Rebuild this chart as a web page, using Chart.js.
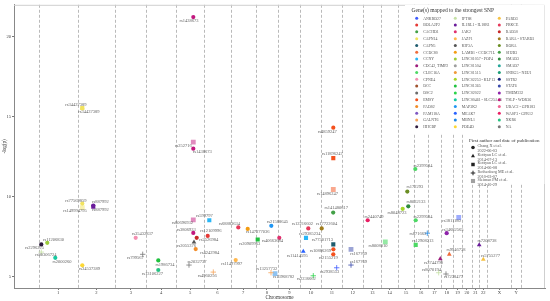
<!DOCTYPE html>
<html><head><meta charset="utf-8">
<script src="https://cdn.jsdelivr.net/npm/chart.js@4.4.0/dist/chart.umd.min.js"></script>
<style>html,body{margin:0;padding:0;background:#fff;}#wrap{width:550px;height:301px;}</style>
</head><body><div id="wrap"><canvas id="c" width="550" height="301"></canvas></div>
<script>
// ---------- DATA ----------
const chromosomes = ['1','2','3','4','5','6','7','8','9','10','11','12','13','14','15','16','17','18','19','20','21','22','X','Y'];
const chrLengthsMb = [249.25,243.20,198.02,191.15,180.92,171.12,159.14,146.36,141.21,135.53,135.01,133.85,115.17,107.35,102.53,90.35,81.20,78.08,59.13,63.03,48.13,51.30,155.27,59.37];
const yTicks = [5,10,15,20];

const snpIds = ["rs1438673","rs252716","rs1438673","rs80696932","rs3806933","rs2526984","rs12109996","rs2055376","rs4242984","rs2032737",
"rs4960256","rs599797","rs11497997","rs68883634","rs147377036","rs20909963","rs21588645","rs40663684","rs13257732","rs13968782",
"rs11414595","rs29385234","rs12216602","rs2236662","rs17722604","rs4859247","rs11896247","rs14896247","rs141480617","rs77301713",
"rs10886269","rs2155219","rs2938553","rs167769","rs167769","rs2440749","rs8008010","rs2399584","rs172293","rs8032133",
"rs8048723","rs2299584","rs3811180","rs871663","rs34682565","rs12908213","rs7208738","rs9946738","rs3744790","rs5755277",
"rs8070194","rs7238477","rs2296225","rs11206830","rs80306724","rs2000260","rs34537389","rs77569859","rs149994795","rs887992",
"rs887992","rs35432837","rs799567","rs1986734","rs13106227","rs34437389","rs34437389"];
const snpChr = ["5","5","5","5","5","5","6","5","5","5",
"6","6","7","7","7","8","8","9","8","8",
"10","10","10","10","11","11","11","11","11","11",
"11","11","11","12","12","13","14","16","15","15",
"15","16","19","16","18","16","21","18","17","22",
"17","18","1","1","1","1","2","2","2","2",
"2","3","3","4","4","2","2"];
const snpPosMb = [111.3,111.3,111.3,111.3,111.3,133.2,22.9,115.8,126.7,83.7,
58.9,33.2,31.6,48.3,108.7,13.8,101.1,6.1,99.2,124.9,
19.0,36.4,51.1,83.2,1.7,76.2,76.2,76.2,75.5,76.2,
76.8,76.2,98.0,54.9,54.9,28.2,26.2,9.0,60.1,66.5,
30.5,11.5,38.1,86.0,39.0,11.5,47.5,55.7,79.1,25.8,
68.8,34.5,16.7,55.2,16.7,106.6,30.8,30.8,30.8,101.4,
101.4,130.5,175.5,77.6,77.6,30.8,30.8];
const snpLogP = [21.22,13.41,13.00,8.55,7.74,7.43,7.55,7.16,6.73,5.73,
5.29,8.53,6.04,8.08,7.99,7.33,8.18,7.43,5.25,5.19,
6.58,7.43,8.02,5.06,8.02,14.31,12.41,10.45,9.01,7.02,
6.71,6.40,5.56,6.71,5.73,8.53,7.18,11.73,10.32,9.40,
9.24,8.53,8.70,7.72,7.72,6.99,6.99,6.40,6.12,6.08,
5.25,5.17,7.02,7.12,6.54,6.18,5.71,9.57,9.32,9.45,
9.37,7.43,6.40,6.02,5.42,15.54,15.51];
const snpGene = ["TSLP - WDR36","TSLP - WDR36","TSLP - WDR36","TSLP - WDR36","TSLP - WDR36","RAD50","BOLA2P2","KIF3A","FADS2","NA",
"GALNT6","CCNY","JAZF1","PRKCE","LAMB1 - CCDC71L","LINC01365","MAP3K2","JAK2","GALNT6","MBNL1",
"MEAK7","CCNY","PRKCE","LINC02022","RARA - STARD3","EMSY","EMSY","EMSY","SH2B3","CAPN5",
"EMSY","EMSY","ANKRD27","STAT6","STAT6","WASF3 - GPR12","LINC02022","CLEC16A","RORA","SMAD3",
"LINC02253 - KLF13","CLEC16A","ANKRD27","MBNL1","TMEM232","CLEC16A","IL1RL1 - IL18R1","CCDC80","CDC42, TIMP2","PARD3",
"IFT88","NA","HHCBP","LINC01057 - POP4","IFT88","LINC00461 - SLC25A46","PDE4D","CAPN14","CAPN14","IL1RL1 - IL18R1",
"IL1RL1 - IL18R1","CPNE4","NA","LINC01365","XKR6","CAPN14","CAPN14"];
// study index: 0 Chang, 1 Kottyan 2014-07-13, 2 Kottyan 2014-06-08, 3 Rothenberg, 4 Sleiman
const snpStudy = [0,4,0,4,0,0,0,1,0,3,
3,2,0,0,0,2,0,0,3,4,
1,2,0,3,0,0,2,4,0,2,
0,0,3,4,3,0,4,0,0,0,
0,0,4,3,0,2,1,1,1,1,
3,3,0,0,3,0,0,0,4,0,
2,0,3,0,0,2,0];

const geneNames = ["ANKRD27","BOLA2P2","CACHD1","CAPN14","CAPN5","CCDC80","CCNY","CDC42, TIMP2","CLEC16A","CPNE4","DCC","DSC2","EMSY","FADS2","FAM118A","GALNT6","HHCBP",
"IFT88","IL1RL1 - IL18R1","JAK2","JAZF1","KIF3A","LAMB1 - CCDC71L","LINC01057 - POP4","LINC01504","LINC01515","LINC02253 - KLF13","LINC01365","LINC02022","LINC00461 - SLC25A46","MAP3K2","MEAK7","MBNL1","PDE4D",
"PARD3","PRKCE","RAD50","RARA - STARD3","RORA","SH2B3","SMAD3","SMAD7","SNHG5 - NEU1","SSTR2","STAT6","TMEM232","TSLP - WDR36","UBAC2 - GPR183","WASF3 - GPR12","XKR6","NA"];
const studyAuthors = ["Chang X et al.","Kottyan LC et al.","Kottyan LC et al.","Rothenberg ME et al.","Sleiman PM et al."];
const studyDates = ["2022-06-03","2014-07-13","2014-06-08","2010-03-07","2014-10-29"];

// ---------- STYLE ----------
const genePalette = ["#3d5afe","#e53935","#43a047","#f2e35f","#1f5c6e","#ef6c3a","#29b6f6","#9c1d7c","#4cd964","#f48fb1","#a0522d","#6b6b6b","#f4511e","#f28c28","#7e57c2","#f6a55b","#2d1b3e",
"#c5e1a5","#6a1b9a","#e0306e","#ffb74d","#555555","#f39c12","#9ccc3c","#9e9e9e","#ef9a3a","#a5d62a","#1fc13e","#2bd44a","#17c9a0","#2196f3","#2962ff","#1e88e5","#fdd835",
"#f6c142","#e5395a","#c62828","#a07d1e","#6b8e23","#43a047","#2e8b3c","#26a69a","#1b9e77","#1a237e","#3949ab","#8e24aa","#c2187e","#f06292","#e91e63","#26c281","#777777"];
const labelNudge = [[-4.3,3.7],[-10,3.5],[9,3.5],[-11,3],[-7,-2.7],[12,1.6],[3.3,-4.7],[-7.5,3.7],[14,3.7],[8,-3.3],
[-6,4],[-5,-4.3],[-4,3.3],[-9,-3.3],[10,3],[-8,4.4],[6,-4],[-7,3.3],[-4.5,-4.4],[8.5,3.6],
[-6,4.7],[4,-4],[-6,-4.3],[-7,2.6],[5,-4.3],[-6,3.7],[-1,-4.4],[-6,4],[3,-4.6],[-11,-4.3],
[-13,1.4],[-5,3.4],[-7,4],[7.5,4],[7.5,-3.3],[6.3,-3.3],[-7.3,4.3],[7.7,-3.7],[7.7,-4.6],[7.7,-4],
[-5.7,4],[7.3,-3.3],[-7.2,3.7],[-9.3,1],[6.3,-3.7],[7.3,-4],[7.7,-4],[6.7,-4.3],[-6.8,3.6],[7.2,-3.3],
[-7.2,-3.4],[7.5,3.3],[-6.8,3.7],[6.2,-3.4],[4.7,3],[6.7,4],[7.2,3.4],[-6.3,-2.6],[-7.3,3.7],[7.2,-3.3],
[7.2,2.8],[6.8,-3.7],[-7.2,3],[6.7,4],[-5.8,4],[-6.3,-3.2],[6.7,3]];
const studyStyle = [
  {pointStyle:'circle', radius:2.1, alpha:1, bw:0},
  {pointStyle:'triangle', radius:2.7, alpha:1, bw:0},
  {pointStyle:'rect', radius:2.9, alpha:1, bw:0},
  {pointStyle:'cross', radius:2.7, alpha:1, bw:0.8},
  {pointStyle:'rect', radius:3.4, alpha:0.5, bw:0}
];
const SERIF = '"Liberation Serif", "DejaVu Serif", serif';

// ---------- BUILD ----------
const chrStart = []; let acc = 0;
chrLengthsMb.forEach(l => { chrStart.push(acc); acc += l; });
const genomeEnd = acc;
const boundaries = chrStart.concat([genomeEnd]);
const chrCenters = chrStart.map((s,i) => s + chrLengthsMb[i]/2);

function hexA(hex, a){ const n=parseInt(hex.slice(1),16); return `rgba(${n>>16&255},${n>>8&255},${n&255},${a})`; }
function geneColor(g, a){ const k = geneNames.indexOf(g); return hexA(genePalette[k<0?genePalette.length-1:k], a); }

const datasets = studyAuthors.map((s, si) => {
  const st = studyStyle[si];
  const data = [];
  snpIds.forEach((id, i) => {
    if (snpStudy[i] !== si) return;
    const ci = chromosomes.indexOf(snpChr[i]);
    data.push({x: chrStart[ci] + snpPosMb[i], y: snpLogP[i], i});
  });
  return {
    label: s + ' ' + studyDates[si], data,
    pointStyle: st.pointStyle, pointRadius: st.radius,
    backgroundColor: c => c.raw ? geneColor(snpGene[c.raw.i], st.alpha) : '#000',
    borderColor: c => c.raw ? geneColor(snpGene[c.raw.i], st.pointStyle==='cross'?1:st.alpha) : '#000',
    borderWidth: st.bw
  };
});

const overlay = {
  id: 'overlay',
  beforeDatasetsDraw(chart) {
    const {ctx, chartArea: a, scales: {x}} = chart;
    ctx.save();
    ctx.strokeStyle = '#a8a8a8'; ctx.lineWidth = 0.8; ctx.setLineDash([3,2]);
    boundaries.forEach(b => {
      const px = Math.round(x.getPixelForValue(b)) + 0.5;
      ctx.beginPath(); ctx.moveTo(px, a.top); ctx.lineTo(px, a.bottom); ctx.stroke();
    });
    ctx.setLineDash([]);
    ctx.strokeStyle = '#cfcfcf'; ctx.lineWidth = 1;
    ctx.beginPath(); ctx.moveTo(a.left, a.top + 0.5); ctx.lineTo(a.right - 0.5, a.top + 0.5); ctx.lineTo(a.right - 0.5, a.bottom); ctx.stroke();
    // legend backgrounds
    ctx.fillStyle = '#fff';
    ctx.fillRect(405, 5, 139.5, 129);
    ctx.fillRect(468, 134, 76.5, 50);
    ctx.restore();
  },
  afterDatasetsDraw(chart) {
    const {ctx} = chart;
    ctx.save();
    // point labels
    ctx.font = '4.5px ' + SERIF; ctx.fillStyle = '#5f5f5f';
    ctx.textAlign = 'center'; ctx.textBaseline = 'middle';
    chart.data.datasets.forEach((ds, di) => {
      const meta = chart.getDatasetMeta(di);
      meta.data.forEach((el, j) => {
        const i = ds.data[j].i;
        ctx.fillText(snpIds[i], el.x + labelNudge[i][0], el.y + labelNudge[i][1]);
      });
    });
    // gene legend
    ctx.textAlign = 'left'; ctx.fillStyle = '#333';
    ctx.font = '5.5px ' + SERIF;
    ctx.fillText('Gene(s) mapped to the strongest SNP', 411.5, 10.5);
    const colX = [416.7, 455.3, 499.3], rowY0 = 18.3, rowStep = 6.78, perCol = 17;
    ctx.font = '3.9px ' + SERIF;
    geneNames.forEach((g, k) => {
      const c = Math.floor(k / perCol), r = k % perCol;
      const px = colX[c], py = rowY0 + r * rowStep;
      ctx.fillStyle = genePalette[k];
      ctx.beginPath(); ctx.arc(px, py, 1.5, 0, Math.PI*2); ctx.fill();
      ctx.fillStyle = '#555';
      ctx.fillText(g, px + 6.5, py + 0.3);
    });
    // study legend
    ctx.fillStyle = '#333'; ctx.font = '5px ' + SERIF;
    ctx.fillText('First author and date of publication', 469, 141);
    ctx.font = '4.2px ' + SERIF;
    const legY = [147.5, 156, 164.5, 173, 181];
    studyAuthors.forEach((s, si) => {
      const st = studyStyle[si];
      const col = si === 4 ? 'rgba(120,120,120,0.7)' : '#222';
      ctx.fillStyle = col; ctx.strokeStyle = col;
      Chart.helpers.drawPoint(ctx, {pointStyle: st.pointStyle, radius: st.radius*0.85, borderWidth: st.pointStyle==='cross'?0.8:0, rotation:0}, 473, legY[si]);
      ctx.fillStyle = '#555';
      ctx.fillText(s, 477.5, legY[si] - 1.4);
      ctx.fillText(studyDates[si], 477.5, legY[si] + 3.4);
    });
    ctx.restore();
  }
};

new Chart(document.getElementById('c'), {
  type: 'scatter',
  data: {datasets},
  options: {
    responsive: false, animation: false, devicePixelRatio: 1,
    layout: {padding: {left: 0, right: 5, top: 4, bottom: 0}},
    plugins: {legend: {display: false}, tooltip: {enabled: false}},
    scales: {
      x: {
        type: 'linear', min: -158.6, max: genomeEnd + 156.1,
        afterBuildTicks: s => { s.ticks = chrCenters.map(v => ({value: v})); },
        afterFit: s => { s.height = 13; },
        ticks: {autoSkip: false, maxRotation: 0, padding: 0.5, color: '#444',
          font: {family: SERIF, size: 4.6}, callback: (v, i) => chromosomes[i]},
        grid: {drawOnChartArea: false, drawTicks: true, tickLength: 2, color: '#777'},
        border: {color: '#888', width: 1},
        title: {display: true, text: 'Chromosome', color: '#333', font: {family: SERIF, size: 5.2}, padding: {top: 0, bottom: 0.5}}
      },
      y: {
        type: 'linear', min: 4.296, max: 21.99,
        afterBuildTicks: s => { s.ticks = yTicks.map(v => ({value: v})); },
        afterFit: s => { s.width = 14; },
        ticks: {color: '#444', font: {family: SERIF, size: 4.6}, padding: 1},
        grid: {drawOnChartArea: false, drawTicks: true, tickLength: 2, color: '#777'},
        border: {color: '#888', width: 1},
        title: {display: true, text: '-log(p)', color: '#333', font: {family: SERIF, size: 5.2}, padding: {top: 1.5, bottom: 0}}
      }
    }
  },
  plugins: [overlay]
});
</script></body></html>
